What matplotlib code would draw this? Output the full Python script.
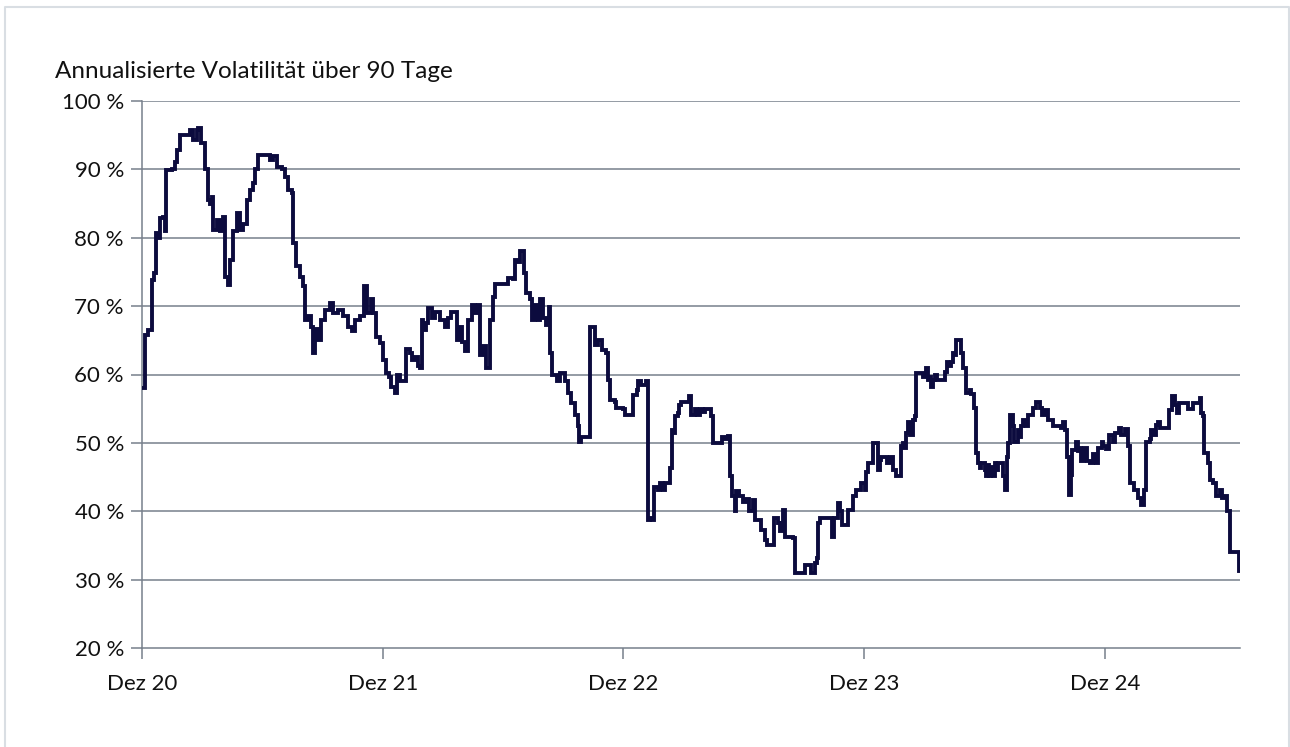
import datetime as dt
import matplotlib
matplotlib.use("Agg")
import matplotlib.pyplot as plt
import matplotlib.dates as mdates
from matplotlib.lines import Line2D
from matplotlib.ticker import FixedLocator, FuncFormatter

# ---- data ----
start_date = dt.date(2020, 12, 1)
end_date = dt.date(2025, 6, 23)

day_offsets = [
    0, 5, 9, 15, 18, 21, 24, 27, 32, 35, 37, 45, 50, 53, 58, 70, 73, 77, 83, 85,
    90, 95, 100, 103, 106, 108, 113, 118, 123, 126, 130, 133, 138, 144, 149, 153,
    159, 164, 168, 171, 176, 189, 194, 199, 204, 212, 217, 222, 227, 229, 234, 239,
    244, 247, 252, 257, 260, 262, 267, 272, 277, 285, 290, 297, 305, 312, 318, 323,
    330, 336, 341, 348, 351, 355, 361, 366, 370, 375, 378, 383, 386, 391, 399, 400,
    406, 409, 414, 419, 421, 424, 426, 431, 434, 439, 444, 452, 459, 464, 469, 474,
    477, 482, 485, 490, 495, 500, 505, 510, 512, 517, 522, 526, 528, 532, 535, 553,
    555, 563, 565, 570, 573, 578, 580, 583, 588, 592, 596, 601, 604, 608, 612, 617,
    618, 622, 629, 634, 639, 641, 646, 651, 656, 661, 663, 666, 676, 679, 684, 687,
    692, 697, 702, 704, 707, 709, 717, 719, 729, 732, 742, 745, 750, 752, 757, 765,
    767, 770, 774, 776, 783, 785, 790, 793, 798, 800, 803, 805, 808, 813, 815, 818,
    828, 829, 833, 838, 841, 846, 851, 853, 858, 863, 866, 876, 879, 884, 889, 891,
    894, 899, 901, 906, 911, 916, 921, 926, 929, 934, 939, 944, 947, 957, 958, 964,
    967, 970, 972, 975, 987, 990, 1002, 1005, 1012, 1015, 1020, 1023, 1025, 1028,
    1045, 1047, 1050, 1055, 1058, 1062, 1068, 1070, 1076, 1078, 1083, 1088, 1091,
    1096, 1098, 1101, 1106, 1108, 1113, 1116, 1119, 1121, 1126, 1129, 1134, 1136,
    1139, 1144, 1149, 1151, 1154, 1156, 1159, 1161, 1164, 1167, 1169, 1172, 1174,
    1182, 1184, 1189, 1192, 1194, 1197, 1199, 1202, 1205, 1214, 1217, 1220, 1222,
    1225, 1227, 1230, 1232, 1235, 1240, 1242, 1245, 1249, 1250, 1255, 1257, 1262,
    1265, 1268, 1270, 1273, 1278, 1280, 1283, 1285, 1288, 1290, 1293, 1295, 1298,
    1303, 1305, 1308, 1311, 1313, 1316, 1321, 1323, 1328, 1331, 1333, 1336, 1341,
    1343, 1348, 1351, 1356, 1361, 1364, 1369, 1374, 1381, 1394, 1396, 1400, 1402,
    1405, 1408, 1409, 1411, 1416, 1419, 1422, 1424, 1429, 1433, 1437, 1442, 1446,
    1449, 1455, 1458, 1462, 1467, 1472, 1475, 1481, 1485, 1490, 1495, 1498, 1505,
    1510, 1515, 1520, 1523, 1528, 1530, 1533, 1537, 1540, 1543, 1555, 1558, 1562,
    1566, 1569, 1572, 1583, 1586, 1591, 1593, 1604, 1606, 1609, 1611, 1616, 1619,
    1624, 1628, 1634, 1638, 1643, 1646, 1650, 1662, 1663,
]

volatility = [
    58.0, 65.8, 66.5, 73.8, 74.8, 80.7, 80.0, 82.9, 83.0, 81.0, 89.9, 90.0, 91.1, 92.8, 95.0, 95.0, 95.8, 94.3, 95.8, 96.0,
    93.8, 90.0, 85.5, 85.0, 86.0, 81.1, 82.6, 81.0, 83.1, 74.3, 73.1, 76.8, 81.0, 83.6, 81.1, 82.0,
    85.5, 87.0, 88.0, 90.0, 92.1, 92.1, 91.4, 92.0, 90.4, 90.0, 88.9, 87.0, 86.5, 79.2, 75.8, 74.3,
    72.9, 68.0, 68.5, 67.0, 63.1, 66.6, 65.0, 68.0, 69.4, 70.4, 69.0, 69.4, 68.5, 67.0, 66.3, 68.0,
    68.5, 72.9, 69.0, 71.0, 69.0, 65.5, 64.6, 62.1, 60.2, 59.7, 58.2, 57.3, 60.0, 59.0, 59.0, 63.8,
    63.1, 62.1, 62.6, 61.2, 61.0, 68.0, 66.5, 67.5, 69.7, 68.2, 69.2, 68.0, 67.0, 68.3, 69.2, 69.2,
    65.0, 67.0, 64.8, 63.4, 68.0, 70.2, 69.0, 70.2, 62.9, 64.1, 61.0, 61.0, 68.0, 71.4, 73.3, 73.3,
    74.1, 74.0, 76.8, 76.4, 78.0, 78.0, 74.8, 71.9, 71.0, 68.0, 70.2, 68.0, 71.0, 68.2, 67.3, 69.9,
    63.1, 60.0, 59.0, 60.2, 60.2, 59.0, 57.3, 55.8, 54.1, 52.4, 50.2, 50.9, 50.9, 67.0, 67.0, 64.3,
    65.0, 63.6, 63.6, 63.1, 59.2, 56.2, 56.0, 55.1, 55.0, 54.1, 54.1, 57.0, 57.7, 59.0, 58.5, 59.0,
    38.7, 39.0, 38.7, 43.6, 43.1, 44.1, 43.1, 44.1, 44.1, 46.3, 51.9, 51.5, 53.9, 54.3, 55.6, 56.0,
    56.0, 56.8, 54.1, 55.0, 54.1, 55.0, 54.5, 55.0, 55.0, 53.9, 50.0, 50.0, 50.9, 50.5, 51.0, 45.1,
    42.2, 40.0, 42.9, 42.2, 41.4, 41.8, 40.0, 41.6, 38.7, 38.7, 37.3, 35.8, 35.1, 35.1, 39.0, 38.3,
    37.1, 38.3, 40.2, 36.3, 36.1, 31.0, 31.0, 32.2, 32.2, 31.0, 32.4, 33.2, 38.3, 39.0,
    39.0, 36.3, 39.0, 41.2, 40.0, 38.0, 38.0, 40.2, 40.2, 42.2, 43.1, 43.1, 44.1,
    43.1, 45.8, 47.0, 47.0, 50.0, 50.0, 46.1, 47.5, 48.0, 48.0, 47.0, 48.0, 48.0,
    46.1, 45.1, 45.1, 49.5, 50.0, 49.3, 51.4, 53.1, 51.2, 51.2, 53.4, 53.9, 60.2,
    60.2, 59.7, 60.9, 59.2, 59.7, 58.2, 59.2, 59.9, 59.2, 59.2, 60.4, 61.9, 61.7,
    61.2, 61.9, 63.1, 62.9, 65.0, 65.0, 63.1, 60.9, 60.9, 57.3, 57.7, 57.2, 55.1,
    48.5, 47.0, 46.3, 47.0, 46.1, 45.1, 46.7, 45.1, 46.5, 45.1, 47.0, 46.1, 47.0,
    47.0, 45.1, 43.1, 48.0, 50.0, 54.1, 52.4, 50.2, 51.9, 50.9, 52.4, 53.4, 52.4,
    54.1, 54.1, 55.1, 56.0, 55.1, 54.1, 54.8, 53.4, 52.4, 52.2, 53.0, 51.9, 48.0,
    42.4, 46.5, 45.3, 49.0, 50.2, 48.8, 49.3, 47.3, 49.3, 47.3, 47.1, 48.3, 47.1,
    49.3, 50.2, 49.5, 49.1, 51.2, 50.2, 51.4, 52.2, 51.2, 52.0, 49.5, 44.1, 43.1,
    41.9, 40.9, 43.1, 50.2, 50.6, 51.9, 51.2, 52.6, 53.0, 52.2, 52.2, 54.8, 56.8,
    55.6, 54.3, 55.9, 55.9, 55.0, 55.0, 55.9, 56.6, 54.3, 53.9, 48.5, 47.0,
    44.6, 44.1, 42.2, 43.1, 41.9, 42.2, 40.0, 34.1, 34.1, 31.2,
]

y_ticks = [20, 30, 40, 50, 60, 70, 80, 90, 100]
x_tick_dates = [dt.date(2020, 12, 1), dt.date(2021, 12, 1), dt.date(2022, 12, 1),
                dt.date(2023, 12, 1), dt.date(2024, 12, 1)]
x_tick_labels = ["Dez 20", "Dez 21", "Dez 22", "Dez 23", "Dez 24"]
title = "Annualisierte Volatilität über 90 Tage"

# ---- plot ----
plt.rcParams['font.family'] = ['Lato', 'DejaVu Sans']

dates = [start_date + dt.timedelta(days=d) for d in day_offsets]

fig = plt.figure(figsize=(12.9, 7.47), dpi=100)
ax = fig.add_axes([142 / 1290, 1 - 648 / 747, (1240 - 142) / 1290, (648 - 101) / 747])

grid_color = "#77808b"
for v in y_ticks[1:]:
    ax.axhline(v, color=grid_color, lw=1.1, zorder=1)

ax.plot(dates, volatility, color="#0c0b3e", lw=2.8, drawstyle="steps-post",
        solid_joinstyle="miter", zorder=3)

ax.set_xlim(start_date, end_date)
ax.set_ylim(20, 100)
ax.yaxis.set_major_locator(FixedLocator(y_ticks))
ax.yaxis.set_major_formatter(FuncFormatter(lambda v, p: f"{int(v)} %"))
ax.set_xticks(mdates.date2num(x_tick_dates))
ax.set_xticklabels(x_tick_labels)

for s in ["top", "right"]:
    ax.spines[s].set_visible(False)
for s in ["left", "bottom"]:
    ax.spines[s].set_color(grid_color)
    ax.spines[s].set_linewidth(1.1)

ax.tick_params(axis="both", colors=grid_color, labelcolor="#111111", labelsize=16,
               length=8, width=1.1)
ax.tick_params(axis="y", pad=5)
ax.tick_params(axis="x", pad=11)

fig.text(55 / 1290, 1 - 72 / 747, title, fontsize=17.5, color="#111111", va="center", ha="left")

# outer frame (left, top, right edges)
fx0, fx1, fy0, fy1 = 5 / 1290, 1288.5 / 1290, 0.0, 1 - 6.5 / 747
frame = Line2D([fx0, fx0, fx1, fx1], [fy0, fy1, fy1, fy0], transform=fig.transFigure,
               color="#d9dee3", lw=1.5)
fig.lines.append(frame)

fig.savefig("out.png", dpi=100)
